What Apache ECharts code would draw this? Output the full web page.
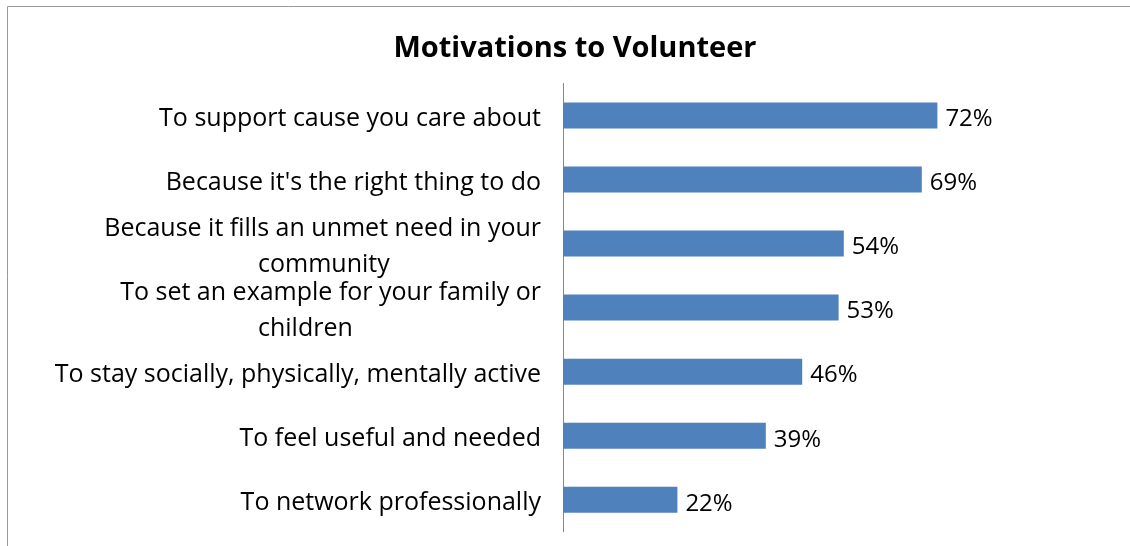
<!DOCTYPE html>
<html>
<head>
<meta charset="utf-8">
<script src="https://cdn.jsdelivr.net/npm/echarts@6/dist/echarts.min.js"></script>
<style>
  html, body { margin: 0; padding: 0; background: #ffffff; }
  #chart { width: 1130px; height: 546px; }
</style>
</head>
<body>
<div id="chart"></div>
<script>
// Survey answers, top to bottom
const categories = [
  'To support cause you care about',
  "Because it's the right thing to do",
  'Because it fills an unmet need in your\ncommunity',
  'To set an example for your family or\nchildren',
  'To stay socially, physically, mentally active',
  'To feel useful and needed',
  'To network professionally'
];
// Share of respondents (%)
const values = [72, 69, 54, 53, 46, 39, 22];

const chartTitle = 'Motivations to Volunteer';

const FONT = '"Open Sans", sans-serif';
const LABEL_SIZE = 25;
const WRAP_INDENT = 283; // second wrapped line starts this far left of the label's right edge

// measure text so the continuation line of a wrapped label can be placed
const measureCtx = document.createElement('canvas').getContext('2d');
measureCtx.font = LABEL_SIZE + 'px "Open Sans"';
function textWidth(s) { return measureCtx.measureText(s).width; }

const rich = {
  a: { fontFamily: FONT, fontSize: LABEL_SIZE, color: '#000', lineHeight: 36 }
};
categories.forEach(function (c, i) {
  const parts = c.split('\n');
  if (parts.length > 1) {
    const pad = Math.max(0, textWidth(parts[0]) - WRAP_INDENT);
    rich['b' + i] = {
      fontFamily: FONT, fontSize: LABEL_SIZE, color: '#000', lineHeight: 36,
      align: 'left', padding: [0, 0, 0, pad]
    };
  }
});

const chart = echarts.init(document.getElementById('chart'), null, { renderer: 'canvas' });

chart.setOption({
  animation: false,
  backgroundColor: '#ffffff',
  title: {
    text: chartTitle,
    left: 570,
    textAlign: 'center',
    top: 29,
    textStyle: { fontFamily: FONT, fontSize: 29, fontWeight: 'bold', color: '#000' }
  },
  graphic: [{
    type: 'rect',
    shape: { x: 7.5, y: 6.5, width: 1200, height: 600 },
    style: { fill: null, stroke: '#999999', lineWidth: 1 },
    silent: true
  }],
  grid: { left: 563, right: 47, top: 83.5, bottom: 14.3 },
  xAxis: {
    type: 'value',
    min: 0,
    max: 100,
    show: false
  },
  yAxis: {
    type: 'category',
    data: categories,
    inverse: true,
    axisLine: { show: true, lineStyle: { color: '#888888', width: 1 } },
    axisTick: { show: false },
    axisLabel: {
      margin: 22,
      padding: [7, 0, 0, 0],
      fontFamily: FONT,
      fontSize: LABEL_SIZE,
      color: '#000',
      formatter: function (v, i) {
        const parts = v.split('\n');
        if (parts.length > 1) {
          return '{a|' + parts[0] + '}\n{b' + i + '|' + parts[1] + '}';
        }
        return '{a|' + v + '}';
      },
      rich: rich
    }
  },
  series: [{
    type: 'bar',
    data: values,
    barWidth: 26,
    itemStyle: { color: '#4F81BD' },
    label: {
      show: true,
      position: 'right',
      distance: 8,
      offset: [0, 4],
      formatter: '{c}%',
      fontFamily: FONT,
      fontSize: 24,
      color: '#000'
    }
  }]
});
</script>
</body>
</html>
